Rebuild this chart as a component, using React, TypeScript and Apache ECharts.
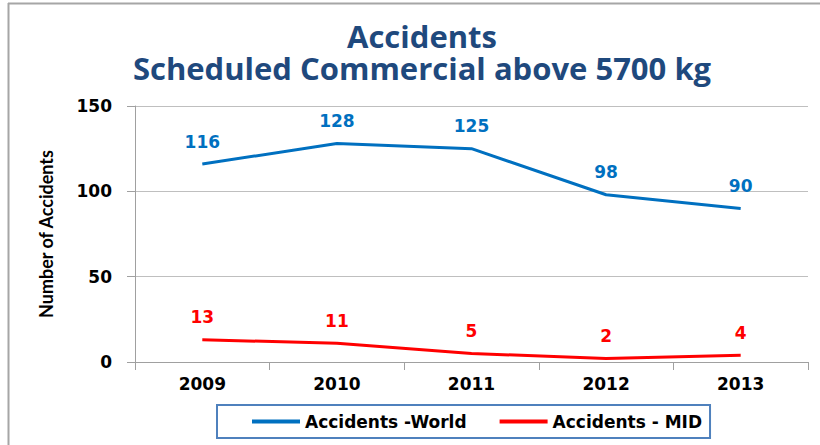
import React, { useEffect, useRef } from "react";
import * as echarts from "echarts";

const years = ["2009", "2010", "2011", "2012", "2013"];
const worldAccidents = [116, 128, 125, 98, 90];
const midAccidents = [13, 11, 5, 2, 4];
const yTicks = { min: 0, max: 150, interval: 50 };

export default function App() {
  const ref = useRef<HTMLDivElement>(null);
  useEffect(() => {
    const chart = echarts.init(ref.current!, null, { renderer: "svg" });
    const labelStyle = (color: string) => ({
      show: true,
      position: "top",
      distance: 14,
      fontFamily: "DejaVu Sans",
      fontWeight: "bold",
      fontSize: 17,
      color,
    });
    const titleText = {
      fontFamily: "Open Sans",
      fontWeight: "bold",
      fontSize: 31,
      lineHeight: 31,
      color: "#1F497D",
    };
    chart.setOption({
      animation: false,
      backgroundColor: "#fff",
      title: [
        { text: "Accidents", left: 422, textAlign: "center", top: 20, padding: 0, textStyle: titleText },
        { text: "Scheduled Commercial above 5700 kg", left: 422, textAlign: "center", top: 52, padding: 0, textStyle: titleText },
      ],
      graphic: [
        { type: "line", shape: { x1: 8.5, y1: 3, x2: 8.5, y2: 445 }, style: { stroke: "#A6A6A6", lineWidth: 2 } },
        { type: "line", shape: { x1: 8, y1: 3.5, x2: 820, y2: 3.5 }, style: { stroke: "#A6A6A6", lineWidth: 2 } },
      ],
      legend: {
        left: 217,
        top: 405,
        orient: "horizontal",
        borderColor: "#4F81BD",
        borderWidth: 2,
        padding: [8, 8, 8, 35],
        itemGap: 33,
        itemWidth: 48,
        itemHeight: 4,
        icon: "rect",
        textStyle: { fontFamily: "DejaVu Sans", fontWeight: "bold", fontSize: 17, color: "#000" },
      },
      grid: { left: 135, right: 12, top: 106, bottom: 83 },
      xAxis: {
        type: "category",
        data: years,
        boundaryGap: true,
        axisLine: { lineStyle: { color: "#A0A0A0", width: 1 } },
        axisTick: { show: true, length: 8, lineStyle: { color: "#A0A0A0" } },
        axisLabel: { fontFamily: "DejaVu Sans", fontWeight: "bold", fontSize: 17, color: "#000", margin: 13 },
      },
      yAxis: {
        type: "value",
        min: yTicks.min,
        max: yTicks.max,
        interval: yTicks.interval,
        name: "Number of Accidents",
        nameLocation: "middle",
        nameRotate: 90,
        nameGap: 80,
        nameTextStyle: { fontFamily: "Lato", fontWeight: "bold", fontSize: 18, color: "#000" },
        axisLine: { show: true, lineStyle: { color: "#A0A0A0", width: 1 } },
        axisTick: { show: true, length: 8, lineStyle: { color: "#A0A0A0" } },
        splitLine: { lineStyle: { color: "#BFBFBF", width: 1 } },
        axisLabel: { fontFamily: "DejaVu Sans", fontWeight: "bold", fontSize: 17, color: "#000", margin: 23 },
      },
      series: [
        {
          name: "Accidents -World",
          type: "line",
          data: worldAccidents,
          showSymbol: true,
          symbol: "circle",
          symbolSize: 0,
          color: "#0070C0",
          lineStyle: { width: 3, color: "#0070C0" },
          label: labelStyle("#0070C0"),
        },
        {
          name: "Accidents - MID",
          type: "line",
          data: midAccidents,
          showSymbol: true,
          symbol: "circle",
          symbolSize: 0,
          color: "#FF0000",
          lineStyle: { width: 3, color: "#FF0000" },
          label: labelStyle("#FF0000"),
        },
      ],
    });
    return () => chart.dispose();
  }, []);
  return <div ref={ref} style={{ width: 820, height: 445, position: "absolute", left: 0, top: 0 }} />;
}
